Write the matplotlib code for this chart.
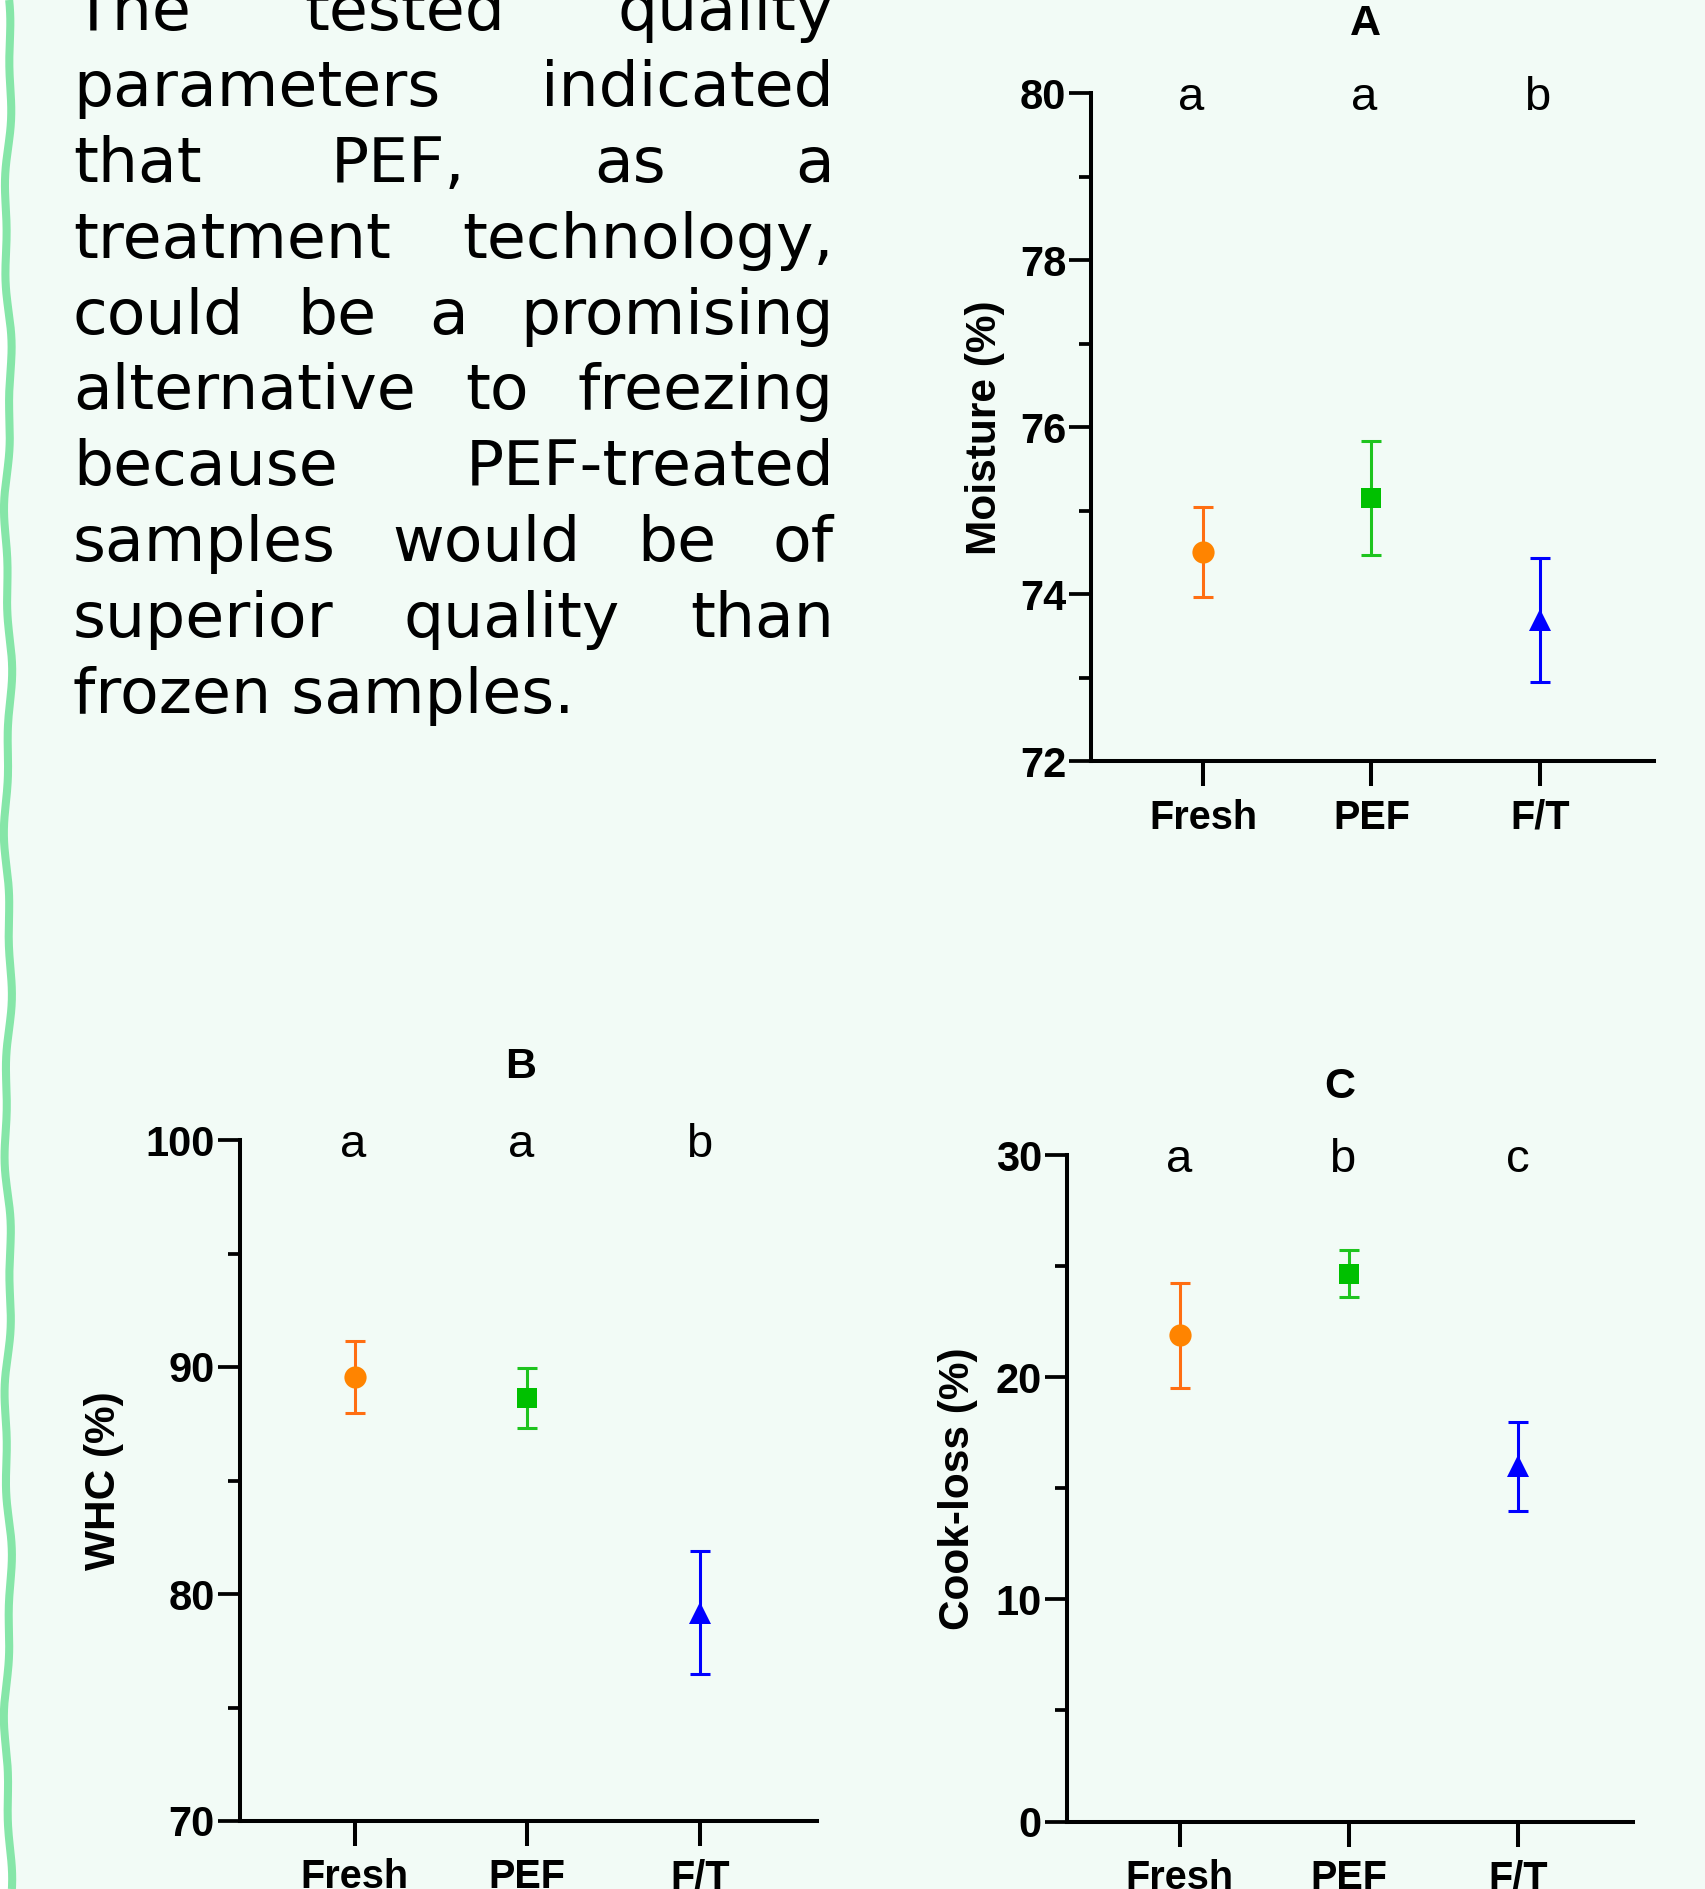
import matplotlib
matplotlib.use('Agg')
import matplotlib.pyplot as plt
import numpy as np
from matplotlib.transforms import ScaledTranslation

plt.rcParams['font.family'] = ['Liberation Sans', 'DejaVu Sans']

# ---------------- data ----------------
groups = ['Fresh', 'PEF', 'F/T']
moisture_mean = [74.51, 75.15, 73.69]
moisture_err = [0.54, 0.68, 0.74]
whc_mean = [89.55, 88.64, 79.18]
whc_err = [1.59, 1.32, 2.71]
cook_mean = [21.9, 24.68, 16.0]
cook_err = [2.36, 1.04, 2.0]
letters_A = ['a', 'a', 'b']
letters_B = ['a', 'a', 'b']
letters_C = ['a', 'b', 'c']

moisture_major = [72, 74, 76, 78, 80]
moisture_minor = [73, 75, 77, 79]
whc_major = [70, 80, 90, 100]
whc_minor = [75, 85, 95]
cook_major = [0, 10, 20, 30]
cook_minor = [5, 15, 25]

paragraph = [
    "The tested quality",
    "parameters indicated",
    "that PEF, as a",
    "treatment technology,",
    "could be a promising",
    "alternative to freezing",
    "because PEF-treated",
    "samples would be of",
    "superior quality than",
    "frozen samples.",
]

# ---------------- style ----------------
W, H = 1706, 1889
DPI = 100
BG = '#F2FBF6'
marker_colors = ['#FF8400', '#00C000', '#0000FF']
err_colors = ['#FF6E12', '#1EC41E', '#0000FF']
markers = ['o', 's', '^']
msizes = [16, 15, 15.5]

fig = plt.figure(figsize=(W / DPI, H / DPI), dpi=DPI, facecolor=BG)

# decorative wavy border on the left
deco = fig.add_axes([0, 0, 1, 1], zorder=-5)
deco.set_xlim(0, W)
deco.set_ylim(H, 0)
deco.axis('off')
yy = np.linspace(0, H, 600)
xx = 8 + 2.8 * np.sin(2 * np.pi * yy / 300.0) + 1.4 * np.sin(2 * np.pi * yy / 110.0 + 1.0)
deco.fill_betweenx(yy, 0, xx, color='white', lw=0)
deco.plot(xx, yy, color='#86E6A8', lw=5.8, solid_capstyle='butt')


def px2fig_x(x):
    return x / W


def px2fig_y(y):
    return 1 - y / H


def panel(rect, means, errs, letters, ylim, major, minor, ylabel, title,
          ylabel_x, title_xy, letter_dx):
    ax = fig.add_axes(rect)
    ax.set_facecolor('none')
    for i in range(len(groups)):
        ax.errorbar(i, means[i], yerr=errs[i], fmt='none', ecolor=err_colors[i],
                    elinewidth=2.2, capsize=7.5, capthick=2.2, zorder=2)
        ax.plot(i, means[i], marker=markers[i], ms=msizes[i], color=marker_colors[i],
                ls='none', mew=0, zorder=3)
    ax.set_xlim(-0.665, 2.68)
    ax.set_ylim(*ylim)
    ax.set_xticks(range(len(groups)))
    ax.set_xticklabels(groups, fontsize=28.5, fontweight='bold')
    ax.set_yticks(major)
    ax.set_yticks(minor, minor=True)
    ax.set_yticklabels([str(v) for v in major], fontsize=30, fontweight='bold')
    for s in ['top', 'right']:
        ax.spines[s].set_visible(False)
    for s in ['left', 'bottom']:
        ax.spines[s].set_linewidth(2.9)
        ax.spines[s].set_capstyle('projecting')
    ax.tick_params(axis='y', which='major', length=16, width=2.7, pad=2, colors='black')
    ax.tick_params(axis='y', which='minor', length=8.5, width=2.7)
    ax.tick_params(axis='x', which='major', length=18, width=2.9, pad=9)
    ax.text(ylabel_x, 0.5, ylabel, transform=ax.transAxes, rotation=90,
            ha='center', va='center', fontsize=30.5, fontweight='bold')
    ax.text(title_xy[0], title_xy[1], title, transform=ax.transAxes,
            ha='center', va='center', fontsize=31, fontweight='bold')
    off = ScaledTranslation(0, -17 / DPI, fig.dpi_scale_trans)
    for i, lt in enumerate(letters):
        ax.text(i + letter_dx[i], ylim[1], lt, transform=ax.transData + off,
                ha='center', va='baseline', fontsize=34, fontweight='normal')
    return ax


panel([1091.4 / W, 1 - 761.4 / H, 562.6 / W, 668.2 / H],
      moisture_mean, moisture_err, letters_A, (72, 80), moisture_major, moisture_minor,
      'Moisture (%)', 'A', -0.189, (0.487, 1.103), [-0.075, -0.045, -0.015])

panel([240 / W, 1 - 1821 / H, 577 / W, 681 / H],
      whc_mean, whc_err, letters_B, (70, 100), whc_major, whc_minor,
      'WHC (%)', 'B', -0.235, (0.486, 1.107), [-0.01, -0.038, -0.005])

panel([1067 / W, 1 - 1821.5 / H, 566 / W, 666.1 / H],
      cook_mean, cook_err, letters_C, (0, 30), cook_major, cook_minor,
      'Cook-loss (%)', 'C', -0.192, (0.482, 1.102), [0.0, -0.04, 0.0])

# ---------------- justified paragraph ----------------
renderer = fig.canvas.get_renderer()
L, R = 73.0, 834.0
base0, step = 30.4, 75.8
fs = 45.5
pfont = dict(fontsize=fs, family=['DejaVu Sans'], color='black', va='baseline', ha='left')
for li, line in enumerate(paragraph):
    yb = base0 + li * step
    if li == len(paragraph) - 1:
        fig.text(px2fig_x(L), px2fig_y(yb), line, **pfont)
        continue
    words = line.split()
    texts = [fig.text(0, px2fig_y(yb), w, **pfont) for w in words]
    widths = [t.get_window_extent(renderer).width for t in texts]
    gap = (R - L - sum(widths)) / (len(words) - 1)
    x = L
    for t, wdt in zip(texts, widths):
        t.set_x(px2fig_x(x))
        x += wdt + gap

fig.savefig('out.png', dpi=DPI, facecolor=BG)
